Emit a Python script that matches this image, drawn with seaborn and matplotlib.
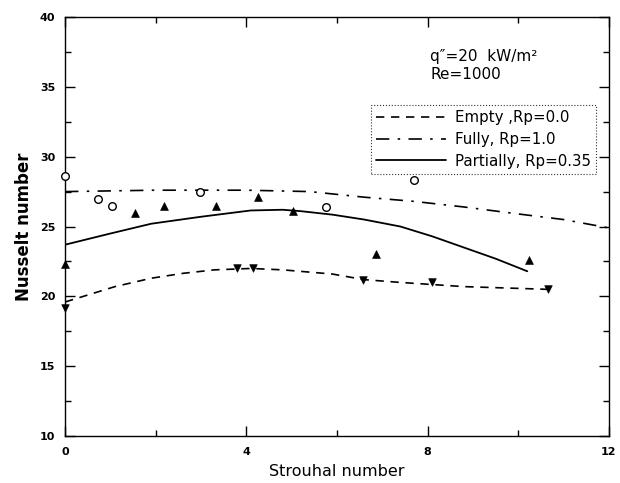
import matplotlib
matplotlib.use("Agg")
import matplotlib.pyplot as plt
from matplotlib.ticker import MultipleLocator
import seaborn as sns

# ---- data ----
empty_line_x = [0, 1.1, 1.9, 2.6, 3.3, 4.1, 4.8, 5.9, 6.6, 7.4, 8.8, 10.7]
empty_line_y = [19.6, 20.7, 21.3, 21.65, 21.9, 22.0, 21.9, 21.6, 21.2, 21.0, 20.7, 20.5]

fully_line_x = [0, 2.0, 4.0, 5.4, 6.6, 7.7, 8.8, 10.0, 11.0, 12.0]
fully_line_y = [27.5, 27.6, 27.6, 27.5, 27.1, 26.8, 26.4, 25.9, 25.5, 24.9]

partial_line_x = [0, 1.0, 1.9, 3.0, 4.1, 4.8, 5.2, 5.9, 6.6, 7.4, 8.1, 8.8, 9.5, 10.2]
partial_line_y = [23.7, 24.5, 25.2, 25.7, 26.15, 26.2, 26.1, 25.85, 25.5, 25.0, 24.3, 23.5, 22.7, 21.8]

empty_pts_x = [0, 3.8, 4.15, 6.57, 8.09, 10.66]
empty_pts_y = [19.2, 22.0, 22.0, 21.2, 21.0, 20.5]

fully_pts_x = [0, 0.73, 1.03, 2.97, 5.76, 7.7]
fully_pts_y = [28.6, 27.0, 26.5, 27.5, 26.4, 28.3]

partial_pts_x = [0, 1.54, 2.18, 3.33, 4.25, 5.02, 6.86, 10.24]
partial_pts_y = [22.3, 26.0, 26.5, 26.5, 27.1, 26.1, 23.0, 22.6]

labels = ["Empty ,Rp=0.0", "Fully, Rp=1.0", "Partially, Rp=0.35"]
x_ticks = [0, 4, 8, 12]
y_ticks = [10, 15, 20, 25, 30, 35, 40]

sns.set_theme(style="ticks")
plt.rcParams["font.family"] = ["DejaVu Sans"]
plt.rcParams["text.color"] = "black"
plt.rcParams["axes.labelcolor"] = "black"
plt.rcParams["xtick.color"] = "black"
plt.rcParams["ytick.color"] = "black"

fig = plt.figure(figsize=(6.2, 4.83), dpi=100)
ax = fig.add_axes([0.105, 0.097, 0.877, 0.868])

sns.lineplot(x=empty_line_x, y=empty_line_y, ax=ax, color="black", lw=1.2,
             linestyle=(0, (5, 4)), sort=False, estimator=None, label=labels[0])
sns.lineplot(x=fully_line_x, y=fully_line_y, ax=ax, color="black", lw=1.2,
             linestyle=(0, (8, 5, 1.5, 5)), sort=False, estimator=None, label=labels[1])
sns.lineplot(x=partial_line_x, y=partial_line_y, ax=ax, color="black", lw=1.3,
             linestyle="-", sort=False, estimator=None, label=labels[2])

sns.scatterplot(x=empty_pts_x, y=empty_pts_y, ax=ax, marker="v", s=30,
                color="black", edgecolor="black", legend=False, clip_on=False, zorder=6)
sns.scatterplot(x=fully_pts_x, y=fully_pts_y, ax=ax, marker="o", s=30,
                facecolor="white", edgecolor="black", linewidth=1.0,
                legend=False, clip_on=False, zorder=6)
sns.scatterplot(x=partial_pts_x, y=partial_pts_y, ax=ax, marker="^", s=32,
                color="black", edgecolor="black", legend=False, clip_on=False, zorder=6)

ax.set_xlim(0, 12)
ax.set_ylim(10, 40)
ax.set_xticks(x_ticks)
ax.set_yticks(y_ticks)
ax.xaxis.set_minor_locator(MultipleLocator(2))
ax.yaxis.set_minor_locator(MultipleLocator(2.5))
ax.tick_params(which="both", direction="in", top=True, right=True, width=1.0,
               colors="black", labelsize=8)
ax.tick_params(axis="x", which="major", pad=8)
ax.tick_params(axis="y", which="major", pad=7)
ax.tick_params(which="major", length=7)
ax.tick_params(which="minor", length=4)
for lab in ax.get_xticklabels() + ax.get_yticklabels():
    lab.set_fontweight("bold")
for sp in ax.spines.values():
    sp.set_linewidth(1.0)
    sp.set_color("black")

ax.set_xlabel("Strouhal number", fontsize=11.5, labelpad=5)
ax.set_ylabel("Nusselt number", fontsize=12, fontweight="bold", labelpad=5)

ax.text(0.672, 0.905, "q\u2033=20  kW/m\u00b2", transform=ax.transAxes,
        fontsize=11, va="center", ha="left")
ax.text(0.672, 0.863, "Re=1000", transform=ax.transAxes,
        fontsize=11, va="center", ha="left")

leg = ax.legend(loc="upper left", bbox_to_anchor=(0.562, 0.79), fontsize=10.8,
                handlelength=4.7, handletextpad=0.55, labelspacing=0.45,
                frameon=True, fancybox=False, borderpad=0.35, borderaxespad=0)
leg.get_frame().set_edgecolor("black")
leg.get_frame().set_facecolor("none")
leg.get_frame().set_linestyle(":")
leg.get_frame().set_linewidth(0.8)

fig.savefig("out.png", dpi=100)
